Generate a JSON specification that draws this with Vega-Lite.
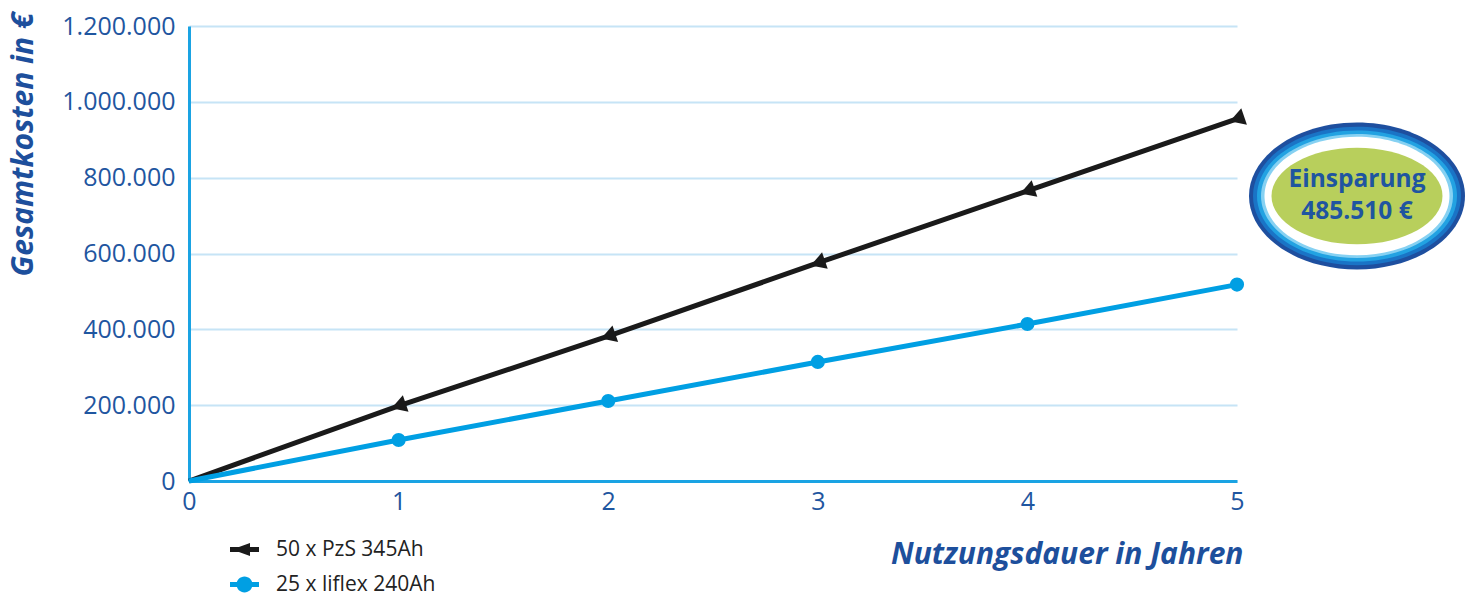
{
  "$schema": "https://vega.github.io/schema/vega-lite/v6.json",
  "width": 1048,
  "height": 455,
  "autosize": {"type": "none"},
  "padding": {"left": 189, "top": 26, "right": 230, "bottom": 113},
  "background": "white",
  "config": {
    "locale": {"number": {"decimal": ",", "thousands": ".", "grouping": [3], "currency": ["", " €"]}},
    "view": {"stroke": null},
    "font": "Open Sans",
    "axis": {
      "labelFont": "Open Sans",
      "labelFontSize": 25,
      "labelColor": "#1f56a0",
      "labelFlush": false,
      "titleFont": "Open Sans",
      "titleFontSize": 30,
      "titleFontWeight": "bold",
      "titleFontStyle": "italic",
      "titleColor": "#1d4f9c",
      "domainColor": "#1aa3e3",
      "domainWidth": 3,
      "ticks": false,
      "gridColor": "#c6e4f6",
      "gridWidth": 2,
      "gridOpacity": 1
    },
    "legend": {
      "title": null,
      "orient": "none",
      "direction": "vertical",
      "symbolSize": 841,
      "symbolStrokeWidth": 0,
      "symbolOpacity": 1,
      "labelFont": "Open Sans",
      "labelFontSize": 21,
      "labelColor": "#222222",
      "labelOffset": 17
    }
  },
  "resolve": {"scale": {"color": "independent"}},
  "datasets": {
    "kosten": [
      {"jahr": 0, "kosten": 0, "serie": "50 x PzS 345Ah"},
      {"jahr": 1, "kosten": 198000, "serie": "50 x PzS 345Ah"},
      {"jahr": 2, "kosten": 382000, "serie": "50 x PzS 345Ah"},
      {"jahr": 3, "kosten": 575000, "serie": "50 x PzS 345Ah"},
      {"jahr": 4, "kosten": 765000, "serie": "50 x PzS 345Ah"},
      {"jahr": 5, "kosten": 955000, "serie": "50 x PzS 345Ah"},
      {"jahr": 0, "kosten": 0, "serie": "25 x liflex 240Ah"},
      {"jahr": 1, "kosten": 108000, "serie": "25 x liflex 240Ah"},
      {"jahr": 2, "kosten": 211000, "serie": "25 x liflex 240Ah"},
      {"jahr": 3, "kosten": 314000, "serie": "25 x liflex 240Ah"},
      {"jahr": 4, "kosten": 414000, "serie": "25 x liflex 240Ah"},
      {"jahr": 5, "kosten": 518000, "serie": "25 x liflex 240Ah"}
    ],
    "badge": [
      {"ring": "1", "farbe": "#1e4f9f", "form": "M -1 0 A 1 0.68 0 1 0 1 0 A 1 0.68 0 1 0 -1 0 Z", "groesse": 46656},
      {"ring": "2", "farbe": "#1a74c6", "form": "M -1 0 A 1 0.665 0 1 0 1 0 A 1 0.665 0 1 0 -1 0 Z", "groesse": 43264},
      {"ring": "3", "farbe": "#22a2e2", "form": "M -1 0 A 1 0.655 0 1 0 1 0 A 1 0.655 0 1 0 -1 0 Z", "groesse": 40000},
      {"ring": "4", "farbe": "#86d1f2", "form": "M -1 0 A 1 0.645 0 1 0 1 0 A 1 0.645 0 1 0 -1 0 Z", "groesse": 36864},
      {"ring": "5", "farbe": "#ffffff", "form": "M -1 0 A 1 0.64 0 1 0 1 0 A 1 0.64 0 1 0 -1 0 Z", "groesse": 34225},
      {"ring": "6", "farbe": "#b8cf5c", "form": "M -1 0 A 1 0.565 0 1 0 1 0 A 1 0.565 0 1 0 -1 0 Z", "groesse": 29241}
    ],
    "badgetext": [
      {"text": "Einsparung", "zeile": 1},
      {"text": "485.510 €", "zeile": 2}
    ]
  },
  "layer": [
    {
      "data": {"name": "kosten"},
      "transform": [{"filter": "datum.serie === '50 x PzS 345Ah'"}],
      "mark": {"type": "line", "strokeWidth": 5},
      "encoding": {
        "x": {
          "field": "jahr", "type": "quantitative",
          "scale": {"domain": [0, 5], "nice": false},
          "axis": {
            "values": [0, 1, 2, 3, 4, 5], "format": "d", "grid": false, "labelPadding": 8,
            "title": "Nutzungsdauer in Jahren", "titleX": 1054, "titleY": 82,
            "titleAlign": "right", "titleBaseline": "alphabetic", "titleAnchor": null
          }
        },
        "y": {
          "field": "kosten", "type": "quantitative",
          "scale": {"domain": [0, 1200000], "nice": false},
          "axis": {
            "values": [0, 200000, 400000, 600000, 800000, 1000000, 1200000],
            "format": ",d", "labelPadding": 14, "grid": true,
            "title": "Gesamtkosten in €", "titleAngle": -90, "titleX": -157, "titleY": 118,
            "titleAlign": "center", "titleBaseline": "alphabetic", "titleAnchor": null
          }
        },
        "color": {
          "field": "serie", "type": "nominal",
          "scale": {"domain": ["50 x PzS 345Ah"], "range": ["#1a1a1a"]},
          "legend": {
            "legendX": 41,
            "legendY": 509,
            "symbolType": "M -1 -0.17 L 1 -0.17 L 1 0.17 L -1 0.17 Z M -0.86 0 L 0.38 -0.45 L 0.38 0.45 Z",
            "symbolFillColor": "#1a1a1a",
            "symbolStrokeColor": "#1a1a1a"
          }
        }
      }
    },
    {
      "data": {"name": "kosten"},
      "transform": [{"filter": "datum.serie === '50 x PzS 345Ah' && datum.jahr > 0"}],
      "mark": {"type": "point", "filled": true, "opacity": 1, "shape": "triangle-left", "size": 300, "angle": -19, "color": "#1a1a1a"},
      "encoding": {
        "x": {"field": "jahr", "type": "quantitative", "scale": {"domain": [0, 5], "nice": false}},
        "y": {"field": "kosten", "type": "quantitative", "scale": {"domain": [0, 1200000], "nice": false}}
      }
    },
    {
      "data": {"name": "kosten"},
      "transform": [{"filter": "datum.serie === '25 x liflex 240Ah'"}],
      "mark": {"type": "line", "strokeWidth": 5},
      "encoding": {
        "x": {"field": "jahr", "type": "quantitative", "scale": {"domain": [0, 5], "nice": false}},
        "y": {"field": "kosten", "type": "quantitative", "scale": {"domain": [0, 1200000], "nice": false}},
        "color": {
          "field": "serie", "type": "nominal",
          "scale": {"domain": ["25 x liflex 240Ah"], "range": ["#009fe3"]},
          "legend": {
            "legendX": 41,
            "legendY": 544,
            "symbolType": "M -1 -0.17 L 1 -0.17 L 1 0.17 L -1 0.17 Z M 0.55 0 A 0.55 0.55 0 1 1 -0.55 0 A 0.55 0.55 0 1 1 0.55 0 Z",
            "symbolFillColor": "#009fe3",
            "symbolStrokeColor": "#009fe3"
          }
        }
      }
    },
    {
      "data": {"name": "kosten"},
      "transform": [{"filter": "datum.serie === '25 x liflex 240Ah' && datum.jahr > 0"}],
      "mark": {"type": "point", "filled": true, "opacity": 1, "shape": "circle", "size": 200, "color": "#009fe3"},
      "encoding": {
        "x": {"field": "jahr", "type": "quantitative", "scale": {"domain": [0, 5], "nice": false}},
        "y": {"field": "kosten", "type": "quantitative", "scale": {"domain": [0, 1200000], "nice": false}}
      }
    },
    {
      "data": {"name": "badge"},
      "mark": {"type": "point", "filled": true, "opacity": 1, "strokeWidth": 0, "clip": false},
      "encoding": {
        "x": {"datum": 5.5725, "type": "quantitative", "scale": {"domain": [0, 5], "nice": false}},
        "y": {"datum": 751600, "type": "quantitative", "scale": {"domain": [0, 1200000], "nice": false}},
        "shape": {"field": "form", "type": "nominal", "scale": null, "legend": null},
        "fill": {"field": "farbe", "type": "nominal", "scale": null, "legend": null},
        "size": {"field": "groesse", "type": "quantitative", "scale": null, "legend": null},
        "order": {"field": "ring", "type": "ordinal"}
      }
    },
    {
      "data": {"name": "badgetext"},
      "mark": {"type": "text", "font": "Open Sans", "fontSize": 24.5, "fontWeight": "bold", "color": "#1f55a0", "align": "center", "baseline": "middle", "clip": false},
      "encoding": {
        "x": {"datum": 5.5725, "type": "quantitative", "scale": {"domain": [0, 5], "nice": false}},
        "y": {"datum": 751600, "type": "quantitative", "scale": {"domain": [0, 1200000], "nice": false}},
        "yOffset": {"field": "zeile", "type": "quantitative", "scale": {"domain": [1, 2], "range": [-16, 16]}},
        "text": {"field": "text", "type": "nominal"}
      }
    }
  ]
}
